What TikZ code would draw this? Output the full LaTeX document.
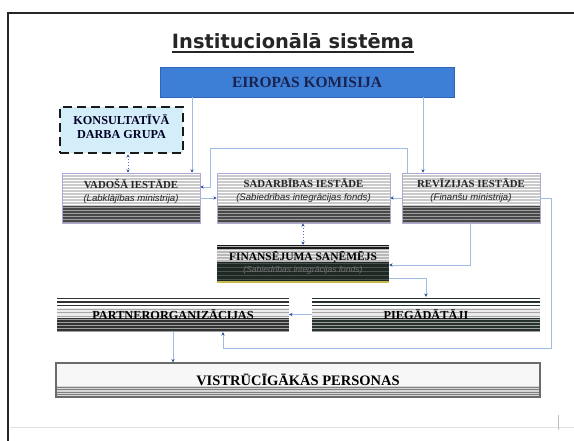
\documentclass[tikz,border=0pt]{standalone}
\usepackage{fontspec}
\setmainfont{Liberation Serif}
\newfontfamily\titlefont{DejaVu Sans}
\newfontfamily\arialfont{Liberation Sans}
\usetikzlibrary{arrows.meta}

\definecolor{ekblue}{HTML}{3D7FD6}
\definecolor{ekdraw}{HTML}{2F65B5}
\definecolor{ektext}{HTML}{1A2350}
\definecolor{konsfill}{HTML}{D4EEF9}
\definecolor{lav}{HTML}{B0A8D8}
\definecolor{gone}{HTML}{CACACA}
\definecolor{gdark}{HTML}{484848}
\definecolor{gmid}{HTML}{9E9E9E}
\definecolor{connblue}{HTML}{9DBDE6}
\definecolor{tipblue}{HTML}{2D4F9E}
\definecolor{darkgreen}{HTML}{26332D}
\definecolor{yell}{HTML}{C8B850}

\newcommand{\stripezone}[6]{%
  \fill[#3] ([yshift=-#1]path picture bounding box.north west) rectangle ([yshift=-#2]path picture bounding box.north east);
  \pgfmathtruncatemacro{\nzone}{(#2-#1)/#5}
  \foreach \k in {0,...,\nzone}{
    \fill[#4] ([yshift=-#1-\k*#5-0.6]path picture bounding box.north west) rectangle ([yshift=-#1-\k*#5-0.6-#6]path picture bounding box.north east);
  }%
}

\tikzset{
  basebox/.style={rectangle, inner sep=0pt},
  instbox/.style={basebox, minimum width=#1, minimum height=50pt, draw=lav, line width=0.6pt,
    path picture={\stripezone{0}{33}{gone}{white}{3}{1.1}\stripezone{33}{50}{gdark}{gmid}{3}{1}}},
  finbox/.style={basebox, minimum width=172pt, minimum height=38pt,
    path picture={\stripezone{0}{4}{black!90}{gray!60}{3}{1.3}\stripezone{4}{17}{gray!55}{white!85!gray}{3}{1.2}\stripezone{17}{38}{darkgreen!80!black}{gray!40!darkgreen}{4}{1}%
      \fill[yell] ([yshift=1.6pt]path picture bounding box.south west) rectangle (path picture bounding box.south east);}},
  lowbox/.style 2 args={basebox, minimum width=#1, minimum height=35pt,
    path picture={\stripezone{0}{11}{white}{#2}{3.5}{1.6}\stripezone{11}{21}{white!92!black}{gray!70}{3.5}{0.6}\stripezone{21}{35}{#2}{gray!75}{3}{0.8}}},
  visbox/.style={basebox, minimum width=484pt, minimum height=34pt, draw=black!58, line width=1.2pt,
    path picture={\stripezone{0}{23}{black!3}{black!3}{3}{1}\stripezone{23}{34}{black!16}{black!50}{2.6}{0.8}}},
  head/.style={font=\fontsize{#1}{#1}\selectfont\bfseries, inner sep=0pt, text=black!85},
  conn/.style={draw=connblue, line width=0.8pt, -{Stealth[length=3.4pt,width=3.4pt,color=tipblue]}},
  conn2/.style={draw=tipblue!70!connblue, line width=0.9pt, dotted,
    {Stealth[length=3.4pt,width=3.4pt,color=tipblue]}-{Stealth[length=3.4pt,width=3.4pt,color=tipblue]}}
}

\begin{document}
\begin{tikzpicture}[x=1pt,y=-1pt]
\useasboundingbox (0,0) rectangle (574,441);
\fill[white] (0,0) rectangle (574,441);

% page frame and edge marks
\draw[line width=2pt, black!85] (8,441) -- (8,13) -- (574,13);
\draw[line width=0.5pt, black!12] (10,427) -- (574,427);
\draw[line width=0.8pt, black!25] (558,415) -- (558,430);

% title
\node[inner sep=0pt, font=\titlefont\bfseries, text=black!85] (title) at (293,41)
  {\resizebox{242pt}{15pt}{Institucionālā sistēma}};
\draw[line width=1.6pt, black!85] ([yshift=-3pt]title.south west) -- ([yshift=-3pt]title.south east);

% boxes
\node[basebox, minimum width=294pt, minimum height=30pt, fill=ekblue, draw=ekdraw, line width=0.6pt] (ek) at (307,82) {};
\node[head=15.5, text=ektext] (ekt) at (ek.center) {EIROPAS KOMISIJA};

\node[basebox, minimum width=123pt, minimum height=46pt, fill=konsfill, draw=black!90, line width=2.6pt,
      dash pattern=on 9pt off 5pt] (kons) at (121.5,130) {};
\node[head=12.2, align=center, text=black!85!blue] (konst) at ([yshift=3pt]kons.center)
  {KONSULTATĪVĀ\\[2pt]DARBA GRUPA};

\node[instbox=138pt] (vad) at (131,198) {};
\node[head=10.8, align=center] (vadt) at ([yshift=7pt]vad.center)
  {VADOŠĀ IESTĀDE\\[2pt]{\arialfont\itshape\mdseries\fontsize{9.6}{10}\selectfont (Labklājības ministrija)}};

\node[instbox=173pt] (sad) at (303.5,198) {};
\node[head=10.8, align=center] (sadt) at ([yshift=7pt]sad.center)
  {SADARBĪBAS IESTĀDE\\[2pt]{\arialfont\itshape\mdseries\fontsize{9.6}{10}\selectfont (Sabiedrības integrācijas fonds)}};

\node[instbox=138pt] (rev) at (471,198) {};
\node[head=10.8, align=center] (revt) at ([yshift=7pt]rev.center)
  {REVĪZIJAS IESTĀDE\\[2pt]{\arialfont\itshape\mdseries\fontsize{9.6}{10}\selectfont (Finanšu ministrija)}};

\node[finbox] (fin) at (303,264) {};
\node[head=11.5, align=center, text=black] (fint) at ([yshift=1pt]fin.center)
  {FINANSĒJUMA SAŅĒMĒJS\\[1pt]{\arialfont\itshape\mdseries\fontsize{8.5}{9}\selectfont\color{black!55} (Sabiedrības integrācijas fonds)}};

\node[lowbox={232pt}{black!80}] (par) at (173,314.5) {};
\node[head=12.3, text=black] (part) at (par.center) {PARTNERORGANIZĀCIJAS};

\node[lowbox={228pt}{darkgreen}] (pie) at (426,314.5) {};
\node[head=12.3, text=black] (piet) at (pie.center) {PIEGĀDĀTĀJI};

\node[visbox] (vis) at (298,380) {};
\node[head=14.5, text=black] (vist) at (vis.center) {VISTRŪCĪGĀKĀS PERSONAS};

% connector helper coordinates
\coordinate (xA) at (192,0);
\coordinate (xB) at (423,0);
\coordinate (xC) at (128,0);
\coordinate (xD) at (407,0);
\coordinate (yD) at (0,148);
\coordinate (xE) at (210,0);
\coordinate (yE) at (0,187);
\coordinate (xF) at (470,0);
\coordinate (yF) at (0,265);
\coordinate (yG) at (0,278);
\coordinate (xH) at (551,0);
\coordinate (yH) at (0,348);
\coordinate (xI) at (223,0);

% connectors
\draw[conn] (ek.south -| xA) -- (vad.north -| xA);
\draw[conn] (ek.south -| xB) -- (rev.north -| xB);
\draw[conn2] (kons.south -| xC) -- (vad.north -| xC);
\draw[conn] (rev.north -| xD) |- (xE |- yD) |- (vad.east |- yE);
\draw[conn] (vad.east) -- (sad.west);
\draw[conn] (rev.west) -- (sad.east);
\draw[conn2] (sad.south -| fin.north) -- (fin.north);
\draw[conn] (rev.south -| xF) |- (fin.east |- yF);
\draw[conn] (fin.east |- yG) -| (pie.north);
\draw[conn] (pie.west) -- (par.east);
\draw[conn] (par.south) -- (vis.north -| par.south);
\draw[conn] (rev.east) -| (xH |- yH) -| (par.south -| xI);
\end{tikzpicture}
\end{document}
